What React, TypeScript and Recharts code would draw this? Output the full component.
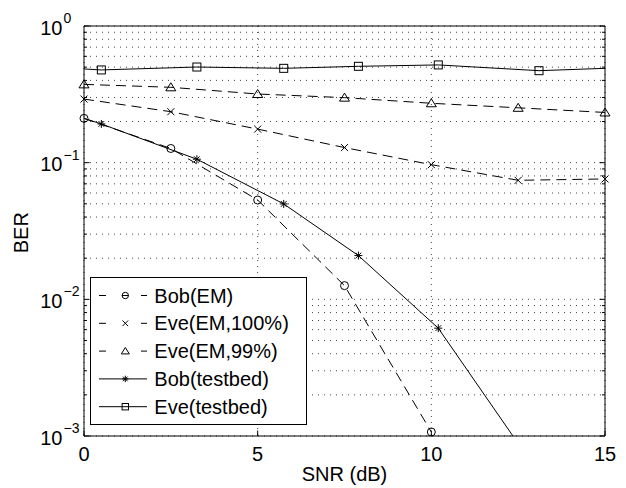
import { LineChart, Line, XAxis, YAxis, CartesianGrid, Legend } from "recharts";

const FONT = "'Liberation Sans', Arial, Helvetica, sans-serif";

// EM simulation SNR points
const emSnr = [0, 2.5, 5, 7.5, 10, 12.5, 15];
const bobEmBer = [0.211, 0.127, 0.0533, 0.0126, 0.00107];
const eveEm100Ber = [0.292, 0.236, 0.176, 0.129, 0.0967, 0.0743, 0.076];
const eveEm99Ber = [0.374, 0.356, 0.318, 0.299, 0.272, 0.252, 0.233];

// testbed measurements (first/last point have no marker)
const testbedSnr = [0, 0.5, 3.25, 5.75, 7.9, 10.2, 13.1, 15];
const testbedMarked = [false, true, true, true, true, true, true, false];
const bobTestbedBer = [0.211, 0.192, 0.106, 0.0499, 0.0209, 0.00615, 0.00053];
const eveTestbedBer = [0.485, 0.477, 0.501, 0.49, 0.507, 0.519, 0.471, 0.49];

const snrTicks = [0, 5, 10, 15];
const berDomain = [0.001, 1];
const berTicks = [
  0.001, 0.002, 0.003, 0.004, 0.005, 0.006, 0.007, 0.008, 0.009,
  0.01, 0.02, 0.03, 0.04, 0.05, 0.06, 0.07, 0.08, 0.09,
  0.1, 0.2, 0.3, 0.4, 0.5, 0.6, 0.7, 0.8, 0.9, 1,
];
const decadeTicks = [0.001, 0.01, 0.1, 1];
const decadeExps = ["\u22123", "\u22122", "\u22121", "0"];

type Pt = { snr: number; ber: number; mark: boolean };

const toPoints = (xs: number[], ys: number[], marks?: boolean[]): Pt[] =>
  ys.map((y, i) => ({ snr: xs[i], ber: y, mark: marks ? marks[i] : true }));

const bobEm = toPoints(emSnr, bobEmBer);
const eveEm100 = toPoints(emSnr, eveEm100Ber);
const eveEm99 = toPoints(emSnr, eveEm99Ber);
const bobTestbed = toPoints(testbedSnr, bobTestbedBer, testbedMarked);
const eveTestbed = toPoints(testbedSnr, eveTestbedBer, testbedMarked);

type Shape = "circle" | "x" | "triangle" | "star" | "square";

function Marker({ shape, cx, cy, s = 1 }: { shape: Shape; cx: number; cy: number; s?: number }) {
  const st = { fill: "none", stroke: "#000", strokeWidth: 1 };
  if (shape === "circle") return <circle cx={cx} cy={cy} r={4 * s} {...st} />;
  if (shape === "x") {
    const d = 3.5 * s;
    return <path d={`M${cx - d},${cy - d}L${cx + d},${cy + d}M${cx - d},${cy + d}L${cx + d},${cy - d}`} {...st} />;
  }
  if (shape === "triangle")
    return <path d={`M${cx},${cy - 4.5 * s}L${cx + 5 * s},${cy + 3.5 * s}L${cx - 5 * s},${cy + 3.5 * s}Z`} {...st} />;
  if (shape === "star") {
    const d = 4 * s;
    const k = d * 0.72;
    return (
      <path
        d={`M${cx - d},${cy}L${cx + d},${cy}M${cx},${cy - d}L${cx},${cy + d}M${cx - k},${cy - k}L${cx + k},${cy + k}M${cx - k},${cy + k}L${cx + k},${cy - k}`}
        {...st}
      />
    );
  }
  const h = 4 * s;
  return <rect x={cx - h} y={cy - h} width={2 * h} height={2 * h} {...st} />;
}

const markerDot = (shape: Shape) => (p: any) =>
  <Marker key={`${shape}-${p.index}`} shape={shape} cx={p.cx} cy={p.cy} />;

const XTickBottom = ({ x, y, payload }: any) => (
  <g>
    <line x1={x} x2={x} y1={y} y2={y - 5.5} stroke="#000" />
    <text x={x} y={y + 24.5} textAnchor="middle" fontSize={20} fontFamily={FONT} fill="#000">
      {payload.value}
    </text>
  </g>
);

const XTickTop = ({ x, y }: any) => <line x1={x} x2={x} y1={y} y2={y + 5.5} stroke="#000" />;

const YTickLeft = ({ x, y, payload }: any) => {
  const di = decadeTicks.indexOf(payload.value);
  const len = di >= 0 ? 5.5 : 3;
  return (
    <g>
      <line x1={x} x2={x + len} y1={y} y2={y} stroke="#000" />
      {di >= 0 && (
        <g fontFamily={FONT} fill="#000">
          <text x={x - 21.5} y={y + 8.5} textAnchor="end" fontSize={20}>
            10
          </text>
          <text x={x - 20.5} y={y - 3} textAnchor="start" fontSize={14}>
            {decadeExps[di]}
          </text>
        </g>
      )}
    </g>
  );
};

const YTickRight = ({ x, y, payload }: any) => {
  const len = decadeTicks.includes(payload.value) ? 5.5 : 3;
  return <line x1={x} x2={x - len} y1={y} y2={y} stroke="#000" />;
};

const legendRows: { name: string; shape: Shape; dashed: boolean }[] = [
  { name: "Bob(EM)", shape: "circle", dashed: true },
  { name: "Eve(EM,100%)", shape: "x", dashed: true },
  { name: "Eve(EM,99%)", shape: "triangle", dashed: true },
  { name: "Bob(testbed)", shape: "star", dashed: false },
  { name: "Eve(testbed)", shape: "square", dashed: false },
];

function LegendBox() {
  return (
    <svg width={218} height={149} style={{ display: "block" }}>
      <rect x={0.5} y={0.5} width={216} height={147} fill="#fff" stroke="#000" />
      {legendRows.map((r, i) => {
        const cy = 18.5 + i * 27.8;
        return (
          <g key={r.name}>
            {r.dashed ? (
              <g stroke="#000">
                <line x1={9} x2={16} y1={cy} y2={cy} />
                <line x1={51} x2={57} y1={cy} y2={cy} />
                {r.shape === "circle" && <line x1={32} x2={38.6} y1={cy} y2={cy} />}
              </g>
            ) : (
              <line x1={9} x2={57} y1={cy} y2={cy} stroke="#000" />
            )}
            <Marker shape={r.shape} cx={35.3} cy={cy} s={0.8} />
            <text x={64.3} y={cy + 7} fontSize={20} fontFamily={FONT} fill="#000">
              {r.name}
            </text>
          </g>
        );
      })}
    </svg>
  );
}

const series: { data: Pt[]; shape: Shape; dash?: string }[] = [
  { data: eveTestbed, shape: "square" },
  { data: bobTestbed, shape: "star" },
  { data: eveEm99, shape: "triangle", dash: "10 6" },
  { data: eveEm100, shape: "x", dash: "10 6" },
  { data: bobEm, shape: "circle", dash: "10 6" },
];

// markers only for points inside the plotted range
const visibleMarks = (data: Pt[]) =>
  data.filter((p) => p.mark && p.ber >= berDomain[0] && p.ber <= berDomain[1]);

export default function App() {
  return (
    <div style={{ position: "absolute", left: 0, top: 0, background: "#fff" }}>
      <LineChart width={626} height={488} margin={{ top: 25, right: 20, bottom: 51, left: 83 }}>
        <CartesianGrid yAxisId="left" stroke="#444" strokeDasharray="1 5" />
        <XAxis
          dataKey="snr"
          type="number"
          domain={[0, 15]}
          ticks={snrTicks}
          height={1}
          tickSize={0}
          tickMargin={0}
          tickLine={false}
          tick={<XTickBottom />}
          axisLine={{ stroke: "#000" }}
          label={() => (
            <text x={344.5} y={480.7} textAnchor="middle" fontSize={20} fontFamily={FONT} fill="#000">
              SNR (dB)
            </text>
          )}
        />
        <XAxis
          xAxisId="top"
          orientation="top"
          dataKey="snr"
          type="number"
          domain={[0, 15]}
          ticks={snrTicks}
          height={1}
          tickSize={0}
          tickMargin={0}
          tickLine={false}
          tick={<XTickTop />}
          axisLine={{ stroke: "#000" }}
        />
        <YAxis
          yAxisId="left"
          scale="log"
          type="number"
          domain={berDomain}
          allowDataOverflow
          ticks={berTicks}
          interval={0}
          width={1}
          tickSize={0}
          tickMargin={0}
          tickLine={false}
          tick={<YTickLeft />}
          axisLine={{ stroke: "#000" }}
          label={() => (
            <text
              x={27.7}
              y={232.7}
              transform="rotate(-90 27.7 232.7)"
              textAnchor="middle"
              fontSize={20}
              fontFamily={FONT}
              fill="#000"
            >
              BER
            </text>
          )}
        />
        <YAxis
          yAxisId="right"
          orientation="right"
          scale="log"
          type="number"
          domain={berDomain}
          ticks={berTicks}
          interval={0}
          width={1}
          tickSize={0}
          tickMargin={0}
          tickLine={false}
          tick={<YTickRight />}
          axisLine={{ stroke: "#000" }}
        />
        {series.map((s) => (
          <Line
            key={`line-${s.shape}`}
            data={s.data}
            dataKey="ber"
            yAxisId="left"
            type="linear"
            stroke="#000"
            strokeWidth={1}
            strokeDasharray={s.dash}
            dot={false}
            activeDot={false}
            isAnimationActive={false}
          />
        ))}
        {series.map((s) => (
          <Line
            key={`mark-${s.shape}`}
            data={visibleMarks(s.data)}
            dataKey="ber"
            yAxisId="right"
            type="linear"
            stroke="none"
            dot={markerDot(s.shape)}
            activeDot={false}
            isAnimationActive={false}
          />
        ))}
        <Legend
          layout="vertical"
          align="center"
          verticalAlign="middle"
          wrapperStyle={{ left: 90, top: 277, width: 218, height: 149, lineHeight: 0 }}
          content={() => <LegendBox />}
        />
      </LineChart>
    </div>
  );
}
